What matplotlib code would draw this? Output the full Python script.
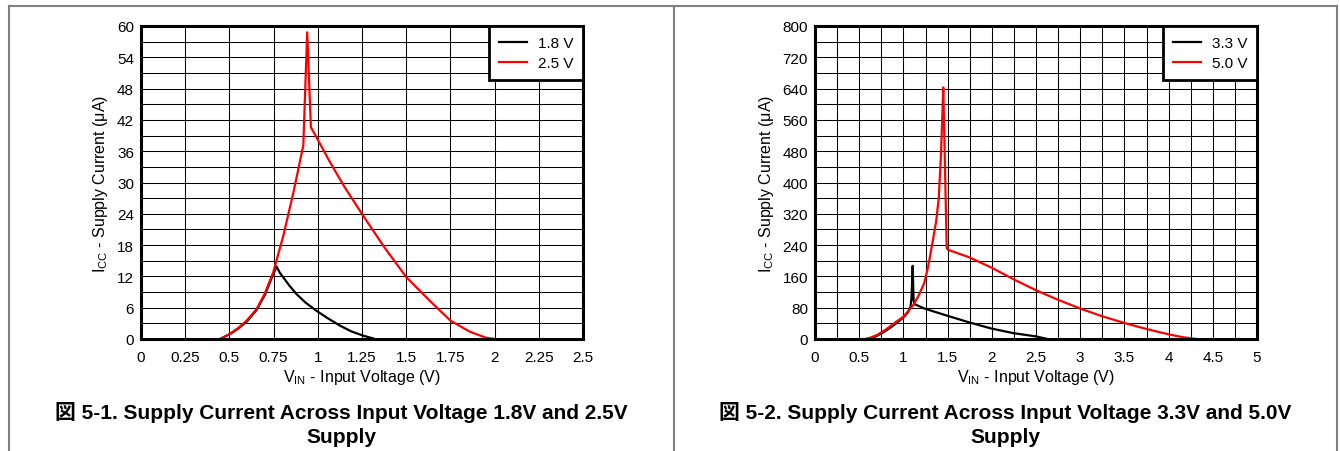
import matplotlib
matplotlib.use("Agg")
import matplotlib.pyplot as plt
from matplotlib.lines import Line2D
from matplotlib.ticker import MultipleLocator

plt.rcParams.update(
    {
        "font.family": ["Liberation Sans", "Noto Sans CJK JP"],
        "font.size": 11,
        "mathtext.fontset": "custom",
        "mathtext.rm": "Liberation Sans",
        "mathtext.it": "Liberation Sans:italic",
        "mathtext.bf": "Liberation Sans:bold",
    }
)

# ---- data ----
# panel 1: 1.8 V and 2.5 V supply
v_18 = [0.447, 0.50, 0.55, 0.60, 0.654, 0.70, 0.745, 0.767, 0.785, 0.805, 0.84, 0.88,
        0.93, 0.993, 1.06, 1.126, 1.19, 1.257, 1.314]
i_18 = [0.0, 0.9, 2.0, 3.4, 5.6, 8.4, 12.2, 13.9, 12.7, 11.8, 10.2, 8.6,
        7.0, 5.4, 3.9, 2.55, 1.45, 0.64, 0.1]

v_25 = [0.447, 0.503, 0.55, 0.60, 0.654, 0.70, 0.748, 0.805, 0.862, 0.918, 0.940,
        0.961, 1.00, 1.069, 1.15, 1.257, 1.38, 1.502, 1.634, 1.751, 1.86, 1.95, 2.00]
i_25 = [0.0, 0.96, 2.1, 3.6, 5.75, 8.7, 12.8, 19.8, 28.1, 37.1, 58.8,
        40.6, 38.2, 33.9, 29.2, 23.6, 17.4, 11.8, 7.3, 3.5, 1.4, 0.25, 0.0]

# panel 2: 3.3 V and 5.0 V supply
v_33 = [0.62, 0.70, 0.78, 0.86, 0.93, 0.99, 1.05, 1.08, 1.092, 1.105, 1.115, 1.123,
        1.236, 1.489, 1.742, 1.991, 2.243, 2.496, 2.63]
i_33 = [0.0, 8, 18, 30, 42, 53, 68, 82, 105, 187, 100, 89.5,
        78, 60, 42.6, 27, 15, 6.8, 0.0]

v_50 = [0.566, 0.62, 0.70, 0.78, 0.86, 0.93, 0.99, 1.05, 1.112, 1.17, 1.236, 1.28,
        1.32, 1.37, 1.40, 1.425, 1.44, 1.451, 1.49, 1.505, 1.742, 1.991, 2.243,
        2.496, 2.745, 2.998, 3.25, 3.499, 3.676, 3.85, 4.0, 4.15, 4.31]
i_50 = [0.0, 3, 10, 21, 34, 46, 55, 70, 87, 110, 143, 185,
        235, 300, 360, 470, 570, 643, 232, 228, 209, 183, 153,
        125, 100.5, 78, 58, 41, 30, 20, 12, 5, 0.0]

x_ticks_1 = [0, 0.25, 0.5, 0.75, 1, 1.25, 1.5, 1.75, 2, 2.25, 2.5]
x_labels_1 = ["0", "0.25", "0.5", "0.75", "1", "1.25", "1.5", "1.75", "2", "2.25", "2.5"]
y_ticks_1 = [0, 6, 12, 18, 24, 30, 36, 42, 48, 54, 60]

x_ticks_2 = [0, 0.5, 1, 1.5, 2, 2.5, 3, 3.5, 4, 4.5, 5]
x_labels_2 = ["0", "0.5", "1", "1.5", "2", "2.5", "3", "3.5", "4", "4.5", "5"]
y_ticks_2 = [0, 80, 160, 240, 320, 400, 480, 560, 640, 720, 800]

captions_1 = ["図 5-1. Supply Current Across Input Voltage 1.8V and 2.5V", "Supply"]
captions_2 = ["図 5-2. Supply Current Across Input Voltage 3.3V and 5.0V", "Supply"]

W, H = 1340, 452
RED = "#ff0000"
BORDER = "#808080"


def setup_axes(ax, xmax, ymax, xticks, xlabels, yticks, xminor, yminor):
    ax.set_xlim(0, xmax)
    ax.set_ylim(0, ymax)
    ax.set_xticks(xticks)
    ax.set_xticklabels(xlabels)
    ax.set_yticks(yticks)
    ax.xaxis.set_minor_locator(MultipleLocator(xminor))
    ax.yaxis.set_minor_locator(MultipleLocator(yminor))
    ax.grid(which="both", color="black", linewidth=0.75)
    ax.set_axisbelow(True)
    ax.tick_params(which="both", length=0, labelsize=11)
    ax.tick_params(axis="x", pad=8)
    ax.tick_params(axis="y", pad=5)
    for sp in ax.spines.values():
        sp.set_linewidth(2.2)
    ax.set_xlabel(r"V$_{\mathrm{IN}}$ - Input Voltage (V)", fontsize=11.5, labelpad=2)
    ax.set_ylabel(r"I$_{\mathrm{CC}}$ - Supply Current (μA)", fontsize=11.5, labelpad=5)


def add_legend(ax):
    leg = ax.legend(loc="upper right", fontsize=11, frameon=True, fancybox=False,
                    framealpha=1, edgecolor="black", borderaxespad=0,
                    handlelength=1.85, handletextpad=0.7, borderpad=0.65,
                    labelspacing=0.4)
    leg.get_frame().set_linewidth(2.0)


def main():
    fig = plt.figure(figsize=(W / 100, H / 100), dpi=100, facecolor="white")

    ax1 = fig.add_axes([141 / W, 1 - 340 / H, (583 - 141) / W, (340 - 27) / H])
    ax2 = fig.add_axes([815 / W, 1 - 340 / H, (1257 - 815) / W, (340 - 27) / H])

    ax1.plot(v_18, i_18, color="black", linewidth=1.6, label="1.8 V")
    ax1.plot(v_25, i_25, color=RED, linewidth=1.6, label="2.5 V")
    setup_axes(ax1, 2.5, 60, x_ticks_1, x_labels_1, y_ticks_1, 0.25, 3)
    add_legend(ax1)

    ax2.plot(v_33, i_33, color="black", linewidth=1.6, label="3.3 V")
    ax2.plot(v_50, i_50, color=RED, linewidth=1.6, label="5.0 V")
    setup_axes(ax2, 5, 800, x_ticks_2, x_labels_2, y_ticks_2, 0.25, 40)
    add_legend(ax2)

    # panel frames
    for xs, ys in [([9, 1337], [7, 7]), ([9, 9], [7, H]), ([674, 674], [7, H]),
                   ([1337, 1337], [7, H])]:
        fig.add_artist(Line2D([x / W for x in xs], [1 - y / H for y in ys],
                              color=BORDER, linewidth=1.5, transform=fig.transFigure))

    for cx, caps in [(341, captions_1), (1005.5, captions_2)]:
        fig.text(cx / W, 1 - 413 / H, caps[0], ha="center", va="center",
                 fontsize=15, fontweight="bold")
        fig.text(cx / W, 1 - 438 / H, caps[1], ha="center", va="center",
                 fontsize=15, fontweight="bold")

    fig.savefig("out.png", dpi=100, facecolor="white")
    plt.close(fig)


if __name__ == "__main__":
    main()
